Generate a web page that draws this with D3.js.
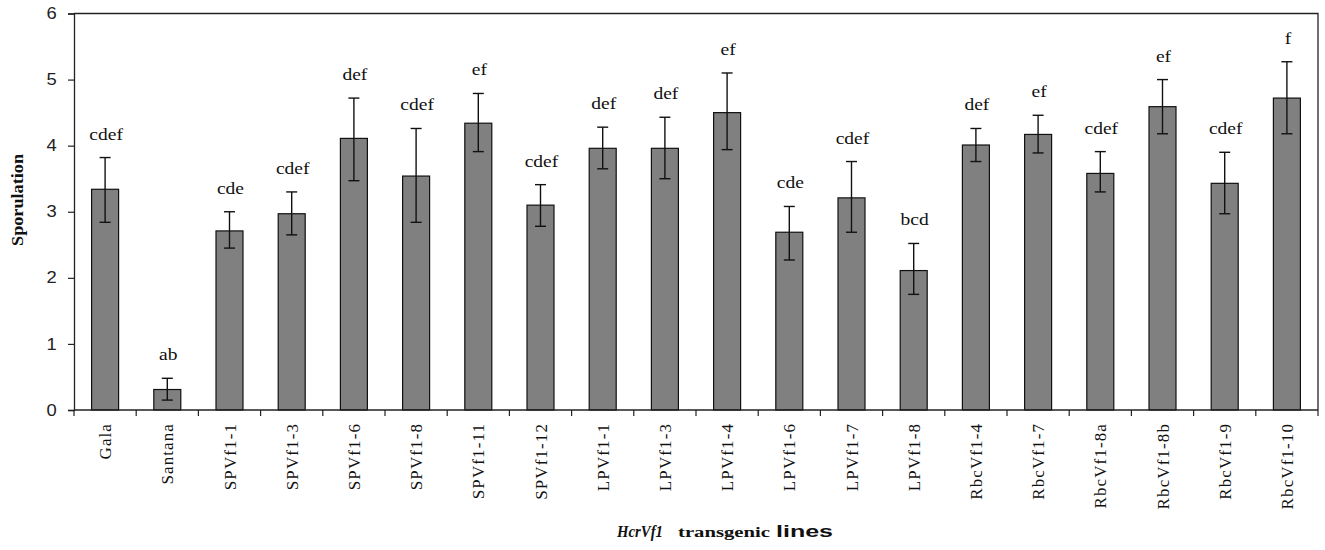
<!DOCTYPE html>
<html>
<head>
<meta charset="utf-8">
<script src="https://cdn.jsdelivr.net/npm/d3@7"></script>
<style>
  body { margin: 0; background: #fff; }
  svg { display: block; }
</style>
</head>
<body>
<svg class="chart" width="1325" height="550"></svg>
<script>
// data
const lines = ["Gala", "Santana", "SPVf1-1", "SPVf1-3", "SPVf1-6", "SPVf1-8", "SPVf1-11", "SPVf1-12",
  "LPVf1-1", "LPVf1-3", "LPVf1-4", "LPVf1-6", "LPVf1-7", "LPVf1-8",
  "RbcVf1-4", "RbcVf1-7", "RbcVf1-8a", "RbcVf1-8b", "RbcVf1-9", "RbcVf1-10"]
const means = [3.34, 0.31, 2.71, 2.97, 4.11, 3.54, 4.34, 3.10, 3.96, 3.96, 4.50, 2.69, 3.21, 2.11, 4.01, 4.17, 3.58, 4.59, 3.43, 4.72]
const errHigh = [3.82, 0.48, 3.00, 3.30, 4.72, 4.26, 4.79, 3.41, 4.28, 4.43, 5.10, 3.08, 3.76, 2.52, 4.26, 4.46, 3.91, 5.00, 3.90, 5.27]
const errLow = [2.84, 0.15, 2.45, 2.65, 3.47, 2.84, 3.91, 2.78, 3.65, 3.50, 3.94, 2.27, 2.69, 1.75, 3.76, 3.89, 3.30, 4.18, 2.97, 4.18]
const groups = ["cdef", "ab", "cde", "cdef", "def", "cdef", "ef", "cdef", "def", "def", "ef", "cde", "cdef", "bcd", "def", "ef", "cdef", "ef", "cdef", "f"]
const yTicks = [0, 1, 2, 3, 4, 5, 6]

const data = lines.map((name, i) => ({
  name: name, mean: means[i], hi: errHigh[i], lo: errLow[i], group: groups[i]
}))

const plotLeft = 74, plotRight = 1318, plotTop = 13.5, plotBottom = 410
const serif = "'Liberation Serif', 'Times New Roman', serif"
const sans = "'Liberation Sans', Arial, sans-serif"

const svg = d3.select(".chart")

const x = d3.scaleBand()
  .domain(lines)
  .range([plotLeft, plotRight])
  .paddingInner(0.566)
  .paddingOuter(0.283)

const y = d3.scaleLinear()
  .domain([0, 6])
  .range([plotBottom, plotTop])

// frame on top and right
svg.append("path")
  .attr("d", `M${plotLeft},${plotTop}H${plotRight}V${plotBottom}`)
  .attr("fill", "none")
  .attr("stroke", "#222")
  .attr("stroke-width", 1.3)

// bars
svg.append("g")
  .selectAll("rect")
  .data(data)
  .enter().append("rect")
    .attr("x", d => x(d.name))
    .attr("y", d => y(d.mean))
    .attr("width", x.bandwidth())
    .attr("height", d => y(0) - y(d.mean))
    .attr("fill", "#808080")
    .attr("stroke", "#111")
    .attr("stroke-width", 1.2)

// error bars
const err = svg.append("g")
  .attr("stroke", "#111")
  .attr("stroke-width", 1.4)
  .selectAll("g")
  .data(data)
  .enter().append("g")
    .attr("transform", d => `translate(${x(d.name) + x.bandwidth() / 2},0)`)
err.append("line")
  .attr("y1", d => y(d.hi)).attr("y2", d => y(d.lo))
err.append("line")
  .attr("x1", -5.5).attr("x2", 5.5)
  .attr("y1", d => y(d.hi)).attr("y2", d => y(d.hi))
err.append("line")
  .attr("x1", -5.5).attr("x2", 5.5)
  .attr("y1", d => y(d.lo)).attr("y2", d => y(d.lo))

// significance letters
svg.append("g")
  .attr("font-family", serif)
  .attr("font-size", 16)
  .attr("text-anchor", "middle")
  .attr("fill", "#111")
  .selectAll("text")
  .data(data)
  .enter().append("text")
    .attr("transform", d => `translate(${x(d.name) + x.bandwidth() / 2 + 1},${y(d.hi) - 18}) scale(1.22,1)`)
    .text(d => d.group)

// y axis
const yAxis = svg.append("g")
  .attr("transform", `translate(${plotLeft},0)`)
  .call(d3.axisLeft(y).tickValues(yTicks).tickSize(6).tickPadding(9).tickFormat(d3.format("d")))
yAxis.select(".domain").attr("stroke", "#222").attr("stroke-width", 1.3)
yAxis.selectAll(".tick line").attr("stroke", "#222").attr("stroke-width", 1.2)
yAxis.selectAll(".tick text")
  .attr("font-family", sans)
  .attr("font-size", 16)
  .attr("fill", "#222")
  .attr("transform", "scale(1.15,1)")

// x axis: ticks sit between the bars
const xAxis = svg.append("g")
  .attr("transform", `translate(0,${plotBottom})`)
xAxis.append("line")
  .attr("x1", plotLeft).attr("x2", plotRight)
  .attr("stroke", "#222").attr("stroke-width", 1.3)
xAxis.selectAll(".sep")
  .data(d3.range(lines.length + 1))
  .enter().append("line")
    .attr("x1", i => plotLeft + i * x.step())
    .attr("x2", i => plotLeft + i * x.step())
    .attr("y2", 6)
    .attr("stroke", "#222").attr("stroke-width", 1.2)
xAxis.selectAll(".lab")
  .data(lines)
  .enter().append("text")
    .attr("transform", d => `translate(${x(d) + x.bandwidth() / 2 + 6},13) rotate(-90)`)
    .attr("text-anchor", "end")
    .attr("font-family", serif)
    .attr("font-size", 17)
    .attr("letter-spacing", 1.1)
    .attr("fill", "#111")
    .text(d => d)

// axis titles
svg.append("text")
  .attr("transform", "translate(23,200) rotate(-90)")
  .attr("text-anchor", "middle")
  .attr("font-family", serif)
  .attr("font-weight", "bold")
  .attr("font-size", 17)
  .attr("textLength", 92)
  .attr("lengthAdjust", "spacingAndGlyphs")
  .attr("fill", "#111")
  .text("Sporulation")

const xTitle = svg.append("g")
  .attr("font-weight", "bold")
  .attr("fill", "#111")
xTitle.append("text")
  .attr("x", 617).attr("y", 537)
  .attr("font-family", serif)
  .attr("font-style", "italic")
  .attr("font-size", 16)
  .attr("textLength", 46)
  .attr("lengthAdjust", "spacingAndGlyphs")
  .text("HcrVf1")
xTitle.append("text")
  .attr("x", 678).attr("y", 537)
  .attr("font-family", serif)
  .attr("font-size", 15)
  .attr("textLength", 92)
  .attr("lengthAdjust", "spacingAndGlyphs")
  .text("transgenic")
xTitle.append("text")
  .attr("x", 776).attr("y", 537)
  .attr("font-family", sans)
  .attr("font-size", 17)
  .attr("textLength", 57)
  .attr("lengthAdjust", "spacingAndGlyphs")
  .text("lines")
</script>
</body>
</html>
